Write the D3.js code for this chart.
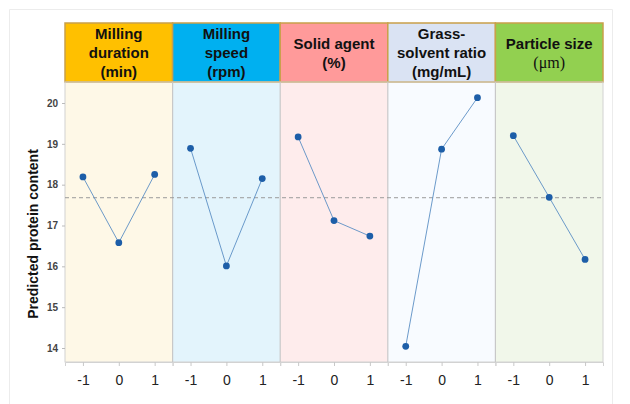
<!DOCTYPE html>
<html><head><meta charset="utf-8">
<script src="https://cdn.jsdelivr.net/npm/d3@7"></script>
<style>body{margin:0;background:#fff;}svg{display:block;font-family:"Liberation Sans",Arial,sans-serif;}</style>
</head><body>
<svg id="c" width="630" height="404"></svg>
<script>
const factors = ["Milling duration (min)","Milling speed (rpm)","Solid agent (%)","Grass-solvent ratio (mg/mL)","Particle size (μm)"];
const headerLines = [["Milling","duration","(min)"],["Milling","speed","(rpm)"],["Solid agent","(%)"],["Grass-","solvent ratio","(mg/mL)"],["Particle size","(μm)"]];
const levels = [-1,0,1];
const millingDuration = [18.19,16.58,18.25];
const millingSpeed = [18.89,16.01,18.15];
const solidAgent = [19.17,17.12,16.74];
const grassSolvent = [14.04,18.87,20.13];
const particleSize = [19.20,17.69,16.17];
const seriesValues = [millingDuration,millingSpeed,solidAgent,grassSolvent,particleSize];
const yTicks = [14,15,16,17,18,19,20];
const meanValue = 17.68;
const headerFill = ["#FFC000","#00B0F0","#FF9A9A","#DAE3F3","#92D050"];
const panelFill = ["#FEF8E7","#E3F4FC","#FEECEC","#F8FBFF","#F1F7EA"];

const svg = d3.select("#c");
const pLeft = 65, pRight = 603, pTop = 82, pBottom = 362, headTop = 23;
const pw = (pRight-pLeft)/factors.length;
const y = d3.scaleLinear().domain([14,20]).range([348,103]);
const panelX = d3.scaleBand().domain(d3.range(factors.length)).range([pLeft,pRight]).paddingInner(0).paddingOuter(0);

// outer frame
svg.append("path").attr("d","M9.5,404 V9.5 H612.5 V404").attr("fill","none").attr("stroke","#ececec");

factors.forEach((f,i)=>{
  const x0 = panelX(i);
  const g = svg.append("g");
  g.append("rect").attr("x",x0).attr("y",pTop).attr("width",pw).attr("height",pBottom-pTop).attr("fill",panelFill[i]);
  g.append("rect").attr("x",x0).attr("y",headTop).attr("width",pw).attr("height",pTop-headTop).attr("fill",headerFill[i]).attr("stroke","#C9A04A").attr("stroke-width",1.5);
  const lines = headerLines[i];
  const lh = 19;
  const cy = (headTop+pTop)/2;
  lines.forEach((t,k)=>{
    const isMu = t.indexOf("μ")>=0;
    g.append("text").attr("x",x0+pw/2).attr("y",cy+(k-(lines.length-1)/2)*lh)
      .attr("text-anchor","middle").attr("dominant-baseline","central")
      .attr("font-size",isMu?16:15).attr("font-weight",isMu?"normal":"bold")
      .attr("font-family",isMu?"'Liberation Serif','Times New Roman',serif":null)
      .attr("fill","#111").text(t);
  });
});
// panel separators and frame
svg.append("rect").attr("x",pLeft).attr("y",pTop).attr("width",pRight-pLeft).attr("height",pBottom-pTop).attr("fill","none").attr("stroke","#d2d2d2");
for(let i=1;i<factors.length;i++){
  svg.append("line").attr("x1",panelX(i)).attr("x2",panelX(i)).attr("y1",pTop).attr("y2",pBottom).attr("stroke","#c8c8c8").attr("stroke-width",1.2);
}
// mean line
svg.append("line").attr("x1",pLeft).attr("x2",pRight).attr("y1",y(meanValue)).attr("y2",y(meanValue))
  .attr("stroke","#9a9a9a").attr("stroke-dasharray","4,3").attr("stroke-width",1);

// y axis
const yAxis = svg.append("g").attr("transform",`translate(${pLeft},0)`)
  .call(d3.axisLeft(y).tickValues(yTicks).tickSize(3).tickPadding(4).tickFormat(d3.format("d")));
yAxis.select(".domain").remove();
yAxis.selectAll("line").attr("stroke","#bbb");
yAxis.selectAll("text").attr("font-size",10).attr("font-weight","bold").attr("fill","#444");

svg.append("text").attr("transform",`translate(38,234) rotate(-90)`).attr("text-anchor","middle")
  .attr("font-size",14).attr("font-weight","bold").attr("fill","#111").text("Predicted protein content");

// panels data
factors.forEach((f,i)=>{
  const x0 = panelX(i);
  const x = d3.scaleLinear().domain([-1.5,1.5]).range([x0,x0+pw]);
  const ax = svg.append("g").attr("transform",`translate(0,${pBottom})`)
    .call(d3.axisBottom(x).tickValues(levels).tickSize(4).tickPadding(9).tickFormat(d3.format("d")));
  ax.select(".domain").attr("stroke","#d2d2d2");
  ax.selectAll("line").attr("stroke","#c8c8c8");
  ax.selectAll("text").attr("font-size",14).attr("fill","#222").text(d=>d<0?"-1":String(d));
  const vals = seriesValues[i];
  const line = d3.line().x((d,k)=>x(levels[k])).y(d=>y(d));
  svg.append("path").attr("d",line(vals)).attr("fill","none").attr("stroke","#5b8ec4").attr("stroke-width",0.9);
  svg.selectAll(null).data(vals).enter().append("circle")
    .attr("cx",(d,k)=>x(levels[k])).attr("cy",d=>y(d)).attr("r",3.4).attr("fill","#1d5ea8");
});
</script>
</body></html>
